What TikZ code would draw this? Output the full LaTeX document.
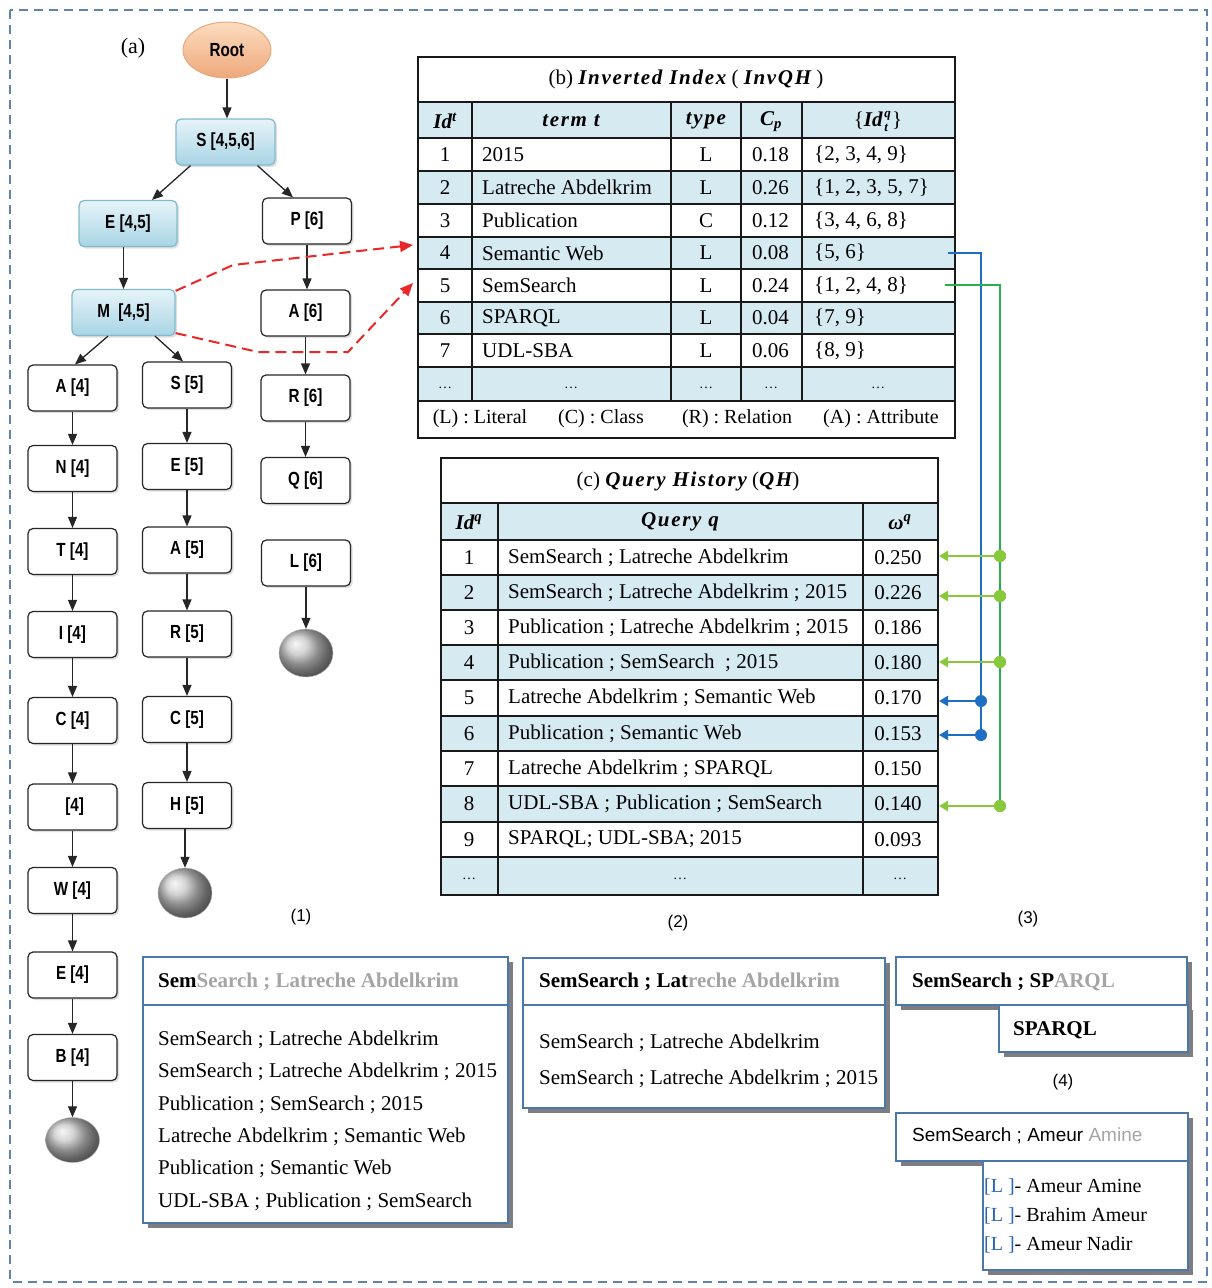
\documentclass[tikz,border=0pt]{standalone}
\usepackage{graphicx}
\usepackage{fontspec}
\setmainfont{Liberation Serif}
\setsansfont{Liberation Sans}
\newfontfamily\spacedserif[LetterSpace=8]{Liberation Serif}
\usetikzlibrary{arrows.meta,calc,shapes.geometric,shadows}

\definecolor{rowblue}{RGB}{214,234,242}
\definecolor{nodeblueT}{RGB}{230,244,249}
\definecolor{nodeblueB}{RGB}{168,212,229}
\definecolor{nodeblueD}{RGB}{130,185,205}
\definecolor{rootT}{RGB}{252,220,192}
\definecolor{rootB}{RGB}{238,168,122}
\definecolor{rootD}{RGB}{230,170,130}
\definecolor{frameblue}{RGB}{95,130,175}
\definecolor{linkblue}{RGB}{30,110,195}
\definecolor{linkgreen}{RGB}{40,175,80}
\definecolor{branchgreen}{RGB}{135,200,60}
\definecolor{fadegray}{RGB}{165,165,165}
\definecolor{boxedge}{RGB}{75,120,170}
\definecolor{shadowgray}{RGB}{125,125,130}
\definecolor{dashred}{RGB}{235,40,40}
\definecolor{tagblue}{RGB}{40,100,190}

\newcommand\tlab[1]{\scalebox{0.8}[1]{\fontsize{19}{19}\selectfont\sffamily\bfseries #1}}
\newcommand\tabfont{\fontsize{21}{21}\selectfont}
\newcommand\hdr[1]{{\spacedserif\bfseries\itshape #1}}
\newcommand\scr[1]{{\fontsize{13}{13}\selectfont #1}}

\begin{document}
\begin{tikzpicture}[x=1pt,y=-1pt,
  tnode/.style={rectangle, rounded corners=5pt, draw=black!85, line width=1.2pt, fill=white,
    minimum width=89pt, minimum height=46pt, inner sep=0pt,
    drop shadow={shadow xshift=2pt, shadow yshift=-2pt, opacity=0.25}},
  bnode/.style={tnode, draw=nodeblueD, top color=nodeblueT, bottom color=nodeblueB, minimum width=99pt},
  endball/.style={ellipse, ball color=gray!45, draw=gray!60, minimum width=54pt, minimum height=48pt, inner sep=0pt},
  tarrow/.style={-{Triangle[length=11pt,width=9pt]}, line width=1.3pt, black!85},
  redlink/.style={dashred, line width=2pt, dash pattern=on 11pt off 6pt, -{Triangle[length=13pt,width=11pt]}},
  cell/.style={inner sep=0pt, font=\tabfont},
  gridline/.style={black!90, line width=2pt},
  bluelink/.style={linkblue, line width=2.2pt},
  greenlink/.style={linkgreen, line width=2.2pt},
  branchtip/.style={-{Triangle[length=9pt,width=10pt]}},
  junction/.style={circle, inner sep=0pt, minimum size=12pt},
  qbox/.style={rectangle, draw=boxedge, line width=1.3pt, fill=white, inner sep=0pt,
    drop shadow={shadow xshift=5pt, shadow yshift=-5pt, fill=shadowgray, opacity=1}},
  numlabel/.style={font=\sffamily\fontsize{17}{17}\selectfont, inner sep=0pt},
  boxtext/.style={inner sep=0pt, anchor=west, font=\tabfont}
]
\useasboundingbox (0,0) rectangle (1211,1288);
\fill[white] (0,0) rectangle (1211,1288);
\draw[frameblue, line width=1.4pt, dash pattern=on 9pt off 6pt] (10,10) rectangle (1207,1282);

% ---------------- (a) tree ----------------
\node[font=\fontsize{22}{22}\selectfont, inner sep=0pt] (lbl-a) at (133,48) {(a)};
\node[ellipse, draw=rootD, top color=rootT, bottom color=rootB, line width=1pt,
      minimum width=88pt, minimum height=56pt, inner sep=0pt] (root) at (227,50) {\tlab{Root}};
\node[bnode] (S456) at (225.5,142) {\tlab{S [4,5,6]}};
\node[bnode, minimum width=98pt] (E45) at (128,223.5) {\tlab{E [4,5]}};
\node[bnode, minimum width=103pt] (M45) at (123.5,312.5) {\tlab{M\ \ [4,5]}};

\node[tnode] (P6) at (307,221) {\tlab{P [6]}};
\node[tnode] (A6) at (305.5,313) {\tlab{A [6]}};
\node[tnode] (R6) at (305.5,398) {\tlab{R [6]}};
\node[tnode] (Q6) at (305.5,480.5) {\tlab{Q [6]}};
\node[tnode] (L6) at (306,563) {\tlab{L [6]}};
\node[endball] (endP) at (306,653) {};

\node[tnode] (A4) at (72.5,388) {\tlab{A [4]}};
\node[tnode] (N4) at (72.5,468.5) {\tlab{N [4]}};
\node[tnode] (T4) at (72.5,551.5) {\tlab{T [4]}};
\node[tnode] (I4) at (72.5,634.5) {\tlab{I [4]}};
\node[tnode] (C4) at (72.5,720.5) {\tlab{C [4]}};
\node[tnode] (X4) at (72.5,807) {\tlab{\ [4]}};
\node[tnode] (W4) at (72.5,890.5) {\tlab{W [4]}};
\node[tnode] (E4) at (72.5,975) {\tlab{E [4]}};
\node[tnode] (B4) at (72.5,1057.5) {\tlab{B [4]}};
\node[endball, minimum height=45pt] (endA) at (72.5,1140) {};

\node[tnode] (S5) at (187,385) {\tlab{S [5]}};
\node[tnode] (E5) at (187,466.5) {\tlab{E [5]}};
\node[tnode] (A5) at (187,550) {\tlab{A [5]}};
\node[tnode] (R5) at (187,634) {\tlab{R [5]}};
\node[tnode] (C5) at (187,719.5) {\tlab{C [5]}};
\node[tnode] (H5) at (187,805.5) {\tlab{H [5]}};
\node[endball, minimum height=50pt] (endS) at (185,893) {};

\draw[tarrow] (root.south) -- (root.south |- S456.north);
\draw[tarrow] ($(S456.south)+(-35,0)$) -- ($(E45.north)+(24,0)$);
\draw[tarrow] ($(S456.south)+(32,0)$) -- ($(P6.north)+(-14,0)$);
\draw[tarrow] (E45.south -| M45.north) -- (M45.north);
\draw[tarrow] ($(M45.south)+(-15.5,0)$) -- ($(A4.north)+(2.5,0)$);
\draw[tarrow] ($(M45.south)+(31.5,0)$) -- ($(S5.north)+(-4,0)$);

\foreach \a/\b in {P6/A6, A6/R6, R6/Q6, L6/endP,
                   A4/N4, N4/T4, T4/I4, I4/C4, C4/X4, X4/W4, W4/E4, E4/B4, B4/endA,
                   S5/E5, E5/A5, A5/R5, R5/C5, C5/H5}
  \draw[tarrow] (\a.south) -- (\a.south |- \b.north);
\draw[tarrow] (H5.south -| endS.north) -- (endS.north);

% ---------------- (b) inverted index ----------------
\fill[rowblue] (418,102) rectangle (955,138);
\foreach \ya/\yb in {171/204, 237/269, 302/334, 367/401}
  \fill[rowblue] (418,\ya) rectangle (955,\yb);
\foreach \yy in {102,138,171,204,237,269,302,334,367,401}
  \draw[gridline] (418,\yy) -- (955,\yy);
\foreach \xx in {472,671,741,802}
  \draw[gridline] (\xx,102) -- (\xx,401);
\node[draw=black!90, line width=2pt, minimum width=537pt, minimum height=381pt, inner sep=0pt] (tabb) at (686.5,247.5) {};

\node[cell] (b-title) at (686,79) {(b) \hdr{Inverted Index} ( \hdr{InvQH} )};
\node[cell] (b-h1) at (445,121) {\bfseries\itshape Id\textsuperscript{t}};
\node[cell] (b-h2) at (571,121) {\hdr{term t}};
\node[cell] (b-h3) at (706,121) {\hdr{type}};
\node[cell] (b-h4) at (771,122) {\bfseries\itshape C\textsubscript{p}};
\node[cell] (b-h5) at (878,121) {\{{\bfseries\itshape Id\/\kern1.5pt\makebox[0pt][l]{\raisebox{9pt}{\scr{q}}}\raisebox{-5pt}{\scr{t}}\kern4pt}\}};

\foreach \i/\yy/\term/\ty/\cp/\ids in {
  1/154.5/2015/L/0.18/{\{2, 3, 4, 9\}},
  2/187.5/Latreche Abdelkrim/L/0.26/{\{1, 2, 3, 5, 7\}},
  3/220.5/Publication/C/0.12/{\{3, 4, 6, 8\}},
  4/253/Semantic Web/L/0.08/{\{5, 6\}},
  5/285.5/SemSearch/L/0.24/{\{1, 2, 4, 8\}},
  6/318/SPARQL/L/0.04/{\{7, 9\}},
  7/350.5/UDL-SBA/L/0.06/{\{8, 9\}}}
{
  \node[cell] (b-id-\i) at (445,\yy) {\i};
  \node[cell, anchor=west] (b-term-\i) at (482,\yy) {\term};
  \node[cell] (b-type-\i) at (706,\yy) {\ty};
  \node[cell, anchor=west] (b-cp-\i) at (752,\yy) {\cp};
  \node[cell, anchor=west] (b-ids-\i) at (814,\yy) {\ids};
}
\foreach \xx/\nm in {445/1,571/2,706/3,771/4,878/5}
  \node[cell, font=\fontsize{14}{14}\selectfont] (b-dots-\nm) at (\xx,388) {\ldots};

\node[cell, font=\fontsize{20}{20}\selectfont] (leg-l) at (480,419) {(L) : Literal};
\node[cell, font=\fontsize{20}{20}\selectfont] (leg-c) at (601,419) {(C) : Class};
\node[cell, font=\fontsize{20}{20}\selectfont] (leg-r) at (737,419) {(R) : Relation};
\node[cell, font=\fontsize{20}{20}\selectfont] (leg-a) at (881,419) {(A) : Attribute};

% ---------------- (c) query history ----------------
\fill[rowblue] (441,503) rectangle (938,540);
\foreach \ya/\yb in {575/610, 645/680, 716/751, 786/822, 857/895}
  \fill[rowblue] (441,\ya) rectangle (938,\yb);
\foreach \yy in {503,540,575,610,645,680,716,751,786,822,857}
  \draw[gridline] (441,\yy) -- (938,\yy);
\foreach \xx in {498,863}
  \draw[gridline] (\xx,503) -- (\xx,895);
\node[draw=black!90, line width=2pt, minimum width=497pt, minimum height=437pt, inner sep=0pt] (tabc) at (689.5,676.5) {};

\node[cell] (c-title) at (688,481) {(c) \hdr{Query History} (\hdr{QH})};
\node[cell] (c-h1) at (469,522) {\bfseries\itshape Id\textsuperscript{q}};
\node[cell] (c-h2) at (680,522) {\hdr{Query q}};
\node[cell] (c-h3) at (900,522) {\bfseries\itshape ω\textsuperscript{q}};

\foreach \i/\yy/\qry/\w in {
  1/557.5/SemSearch ; Latreche Abdelkrim/0.250,
  2/592.5/SemSearch ; Latreche Abdelkrim ; 2015/0.226,
  3/627.5/Publication ; Latreche Abdelkrim ; 2015/0.186,
  4/662.5/Publication ; SemSearch \ ; 2015/0.180,
  5/698/Latreche Abdelkrim ; Semantic Web/0.170,
  6/733.5/Publication ; Semantic Web/0.153,
  7/768.5/Latreche Abdelkrim ; SPARQL/0.150,
  8/804/UDL-SBA ; Publication ; SemSearch/0.140,
  9/839.5/SPARQL; UDL-SBA; 2015/0.093}
{
  \node[cell] (c-id-\i) at (469,\yy) {\i};
  \node[cell, anchor=west] (c-q-\i) at (508,\yy) {\qry};
  \node[cell] (c-w-\i) at (898,\yy) {\w};
}
\foreach \xx/\nm in {469/1,680/2,900/3}
  \node[cell, font=\fontsize{14}{14}\selectfont] (c-dots-\nm) at (\xx,879) {\ldots};

% ---------------- links from the index to the history ----------------
\coordinate (b4-out) at (948,253);
\coordinate (b5-out) at (945,285);
\coordinate (blue-top) at (981,253);
\coordinate (green-top) at (1000,285);

\node[junction, fill=linkblue] (bj5) at (981,701) {};
\node[junction, fill=linkblue] (bj6) at (981,735) {};
\draw[bluelink] (b4-out) -- (blue-top) -- (bj6.center);
\draw[bluelink, branchtip] (bj5) -- (bj5 -| tabc.east);
\draw[bluelink, branchtip] (bj6) -- (bj6 -| tabc.east);

\node[junction, fill=branchgreen] (gj1) at (1000,556) {};
\node[junction, fill=branchgreen] (gj2) at (1000,596) {};
\node[junction, fill=branchgreen] (gj4) at (1000,662) {};
\node[junction, fill=branchgreen] (gj8) at (1000,806) {};
\draw[greenlink] (b5-out) -- (green-top) -- (gj8.center);
\foreach \g in {gj1,gj2,gj4,gj8}
  \draw[branchgreen, line width=2.4pt, branchtip] (\g) -- (\g -| tabc.east);
\foreach \g in {gj1,gj2,gj4,gj8}
  \fill[branchgreen] (\g) circle (6pt);

% ---------------- links from the tree to the index ----------------
\coordinate (b4-in) at (413,245);
\coordinate (b5-in) at (413,283);
\draw[redlink] ($(M45.north east)+(0,2)$) -- (233,265) -- (b4-in);
\draw[redlink] ($(M45.south east)+(0,-3)$) -- (258,352) -- (348,352) -- (b5-in);

% ---------------- completion examples ----------------
\node[numlabel] (n1) at (301,917) {(1)};
\node[numlabel] (n2) at (678,923) {(2)};
\node[numlabel] (n3) at (1028,919) {(3)};
\node[numlabel] (n4) at (1063,1082) {(4)};

% (1)
\node[qbox, minimum width=365pt, minimum height=266pt] (box1) at (325.5,1090) {};
\draw[boxedge, line width=1.3pt] (box1.west |- 0,1005) -- (box1.east |- 0,1005);
\node[boxtext, font=\tabfont\bfseries] (box1-head) at (158,982) {Sem\textcolor{fadegray}{Search ; Latreche Abdelkrim}};
\foreach \k/\txt in {0/SemSearch ; Latreche Abdelkrim,
                     1/SemSearch ; Latreche Abdelkrim ; 2015,
                     2/Publication ; SemSearch ; 2015,
                     3/Latreche Abdelkrim ; Semantic Web,
                     4/Publication ; Semantic Web,
                     5/UDL-SBA ; Publication ; SemSearch}
  \node[boxtext] (box1-l\k) at (158,1040+32.3*\k) {\txt};

% (2)
\node[qbox, minimum width=362pt, minimum height=150pt] (box2) at (704,1033) {};
\draw[boxedge, line width=1.3pt] (box2.west |- 0,1005) -- (box2.east |- 0,1005);
\node[boxtext, font=\tabfont\bfseries] (box2-head) at (539,982) {SemSearch ; Lat\textcolor{fadegray}{reche Abdelkrim}};
\node[boxtext] (box2-l0) at (539,1043) {SemSearch ; Latreche Abdelkrim};
\node[boxtext] (box2-l1) at (539,1079) {SemSearch ; Latreche Abdelkrim ; 2015};

% (3)
\node[qbox, minimum width=291pt, minimum height=48pt] (box3) at (1041.5,981) {};
\node[boxtext, font=\tabfont\bfseries] (box3-head) at (912,982) {SemSearch ; SP\textcolor{fadegray}{ARQL}};
\node[qbox, minimum width=189pt, minimum height=47pt] (box3-sub) at (1093.5,1028.5) {};
\node[boxtext, font=\tabfont\bfseries] (box3-l0) at (1013,1030) {SPARQL};

% (4)
\node[qbox, minimum width=292pt, minimum height=48pt] (box4) at (1042,1137) {};
\node[boxtext, font=\sffamily\fontsize{19}{19}\selectfont] (box4-head) at (912,1136) {SemSearch ; Ameur \textcolor{fadegray}{Amine}};
\node[qbox, minimum width=205pt, minimum height=109pt] (box4-sub) at (1085.5,1215.5) {};
\foreach \k/\txt in {0/Ameur Amine, 1/Brahim Ameur, 2/Ameur Nadir}
  \node[boxtext, font=\fontsize{20}{20}\selectfont] (box4-l\k) at (984,1187+29*\k) {\textcolor{tagblue}{[L ]}- \txt};

\end{tikzpicture}
\end{document}
